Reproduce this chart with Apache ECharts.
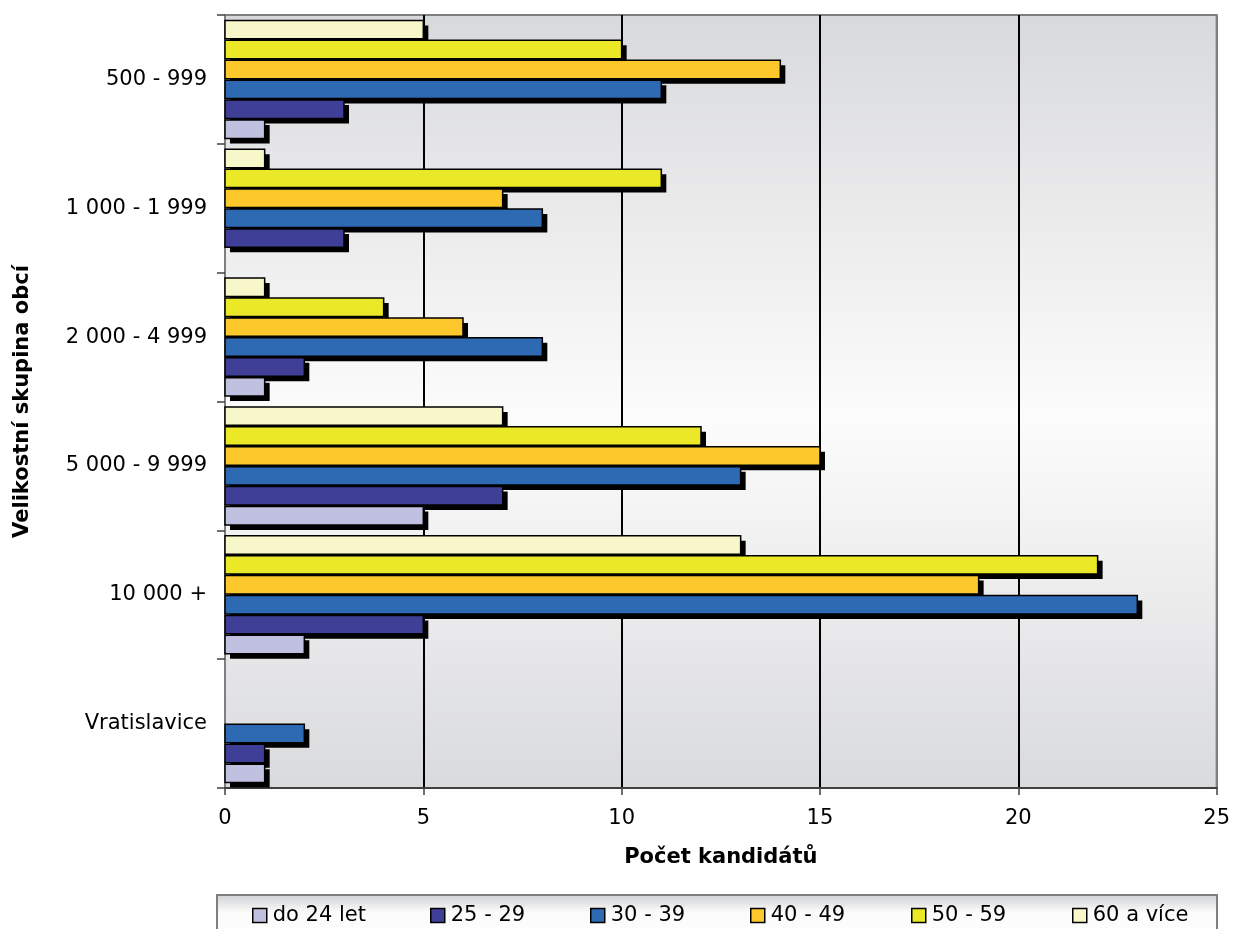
<!DOCTYPE html>
<html>
<head>
<meta charset="utf-8">
<script src="https://cdn.jsdelivr.net/npm/echarts@6/dist/echarts.min.js"></script>
<style>html,body{margin:0;padding:0;background:#fff;}#c{width:1233px;height:929px;}</style>
</head>
<body>
<div id="c"></div>
<script>
// categories listed bottom to top
const categories = ['Vratislavice', '10 000 +', '5 000 - 9 999', '2 000 - 4 999', '1 000 - 1 999', '500 - 999'];
const seriesNames = ['do 24 let', '25 - 29', '30 - 39', '40 - 49', '50 - 59', '60 a více'];
const do24 = [1, 2, 5, 1, 0, 1];
const s25_29 = [1, 5, 7, 2, 3, 3];
const s30_39 = [2, 23, 13, 8, 8, 11];
const s40_49 = [0, 19, 15, 6, 7, 14];
const s50_59 = [0, 22, 12, 4, 11, 10];
const s60plus = [0, 13, 7, 1, 1, 5];
const xTicks = [0, 5, 10, 15, 20, 25];

const allValues = [do24, s25_29, s30_39, s40_49, s50_59, s60plus];
const colors = ['#c0c0e0', '#3f3f98', '#2e69b3', '#fdc82b', '#ebe827', '#f8f7c9'];
const legendLeft = [252, 430, 590, 750, 911, 1072];

const chart = echarts.init(document.getElementById('c'), null, {renderer: 'canvas'});
const FONT = 'DejaVu Sans';
const N = allValues.length;
const CAT_GAP = 0.084;
const BAR_GAP = 0.08;
const SH = 5;

function makeRender(k) {
  return function (params, api) {
    const val = api.value(0);
    const cat = api.value(1);
    if (!val) return null;
    const bandH = api.size([0, 1])[1];
    const total = bandH * (1 - CAT_GAP);
    const w = total / (N + (N - 1) * BAR_GAP);
    const g = w * BAR_GAP;
    const p0 = api.coord([0, cat]);
    const p1 = api.coord([val, cat]);
    const top = p0[1] + total / 2 - (k + 1) * w - k * g;
    const len = p1[0] - p0[0];
    return {
      type: 'group',
      children: [
        {type: 'rect', shape: {x: p0[0] + SH, y: top + SH, width: len, height: w}, style: {fill: '#000'}},
        {type: 'rect', shape: {x: p0[0], y: top, width: len, height: w}, style: {fill: colors[k], stroke: '#000', lineWidth: 1.5}}
      ]
    };
  };
}

const series = allValues.map((vals, k) => ({
  name: seriesNames[k],
  type: 'custom',
  z: 10 - k,
  renderItem: makeRender(k),
  encode: {x: 0, y: 1},
  itemStyle: {color: colors[k]},
  data: vals.map((v, ci) => [v, ci])
}));

const legends = seriesNames.map((n, i) => ({
  data: [n],
  left: legendLeft[i],
  top: 905,
  padding: 0,
  itemWidth: 14,
  itemHeight: 14,
  itemGap: 0,
  icon: 'rect',
  itemStyle: {color: colors[i], borderColor: '#000', borderWidth: 1.5},
  textStyle: {fontFamily: FONT, fontSize: 21, color: '#000', padding: [0, 0, 0, 1]},
  selectedMode: false
}));

chart.setOption({
  animation: false,
  backgroundColor: '#fff',
  graphic: [{
    type: 'rect',
    shape: {x: 217, y: 895, width: 1000, height: 50},
    style: {
      fill: new echarts.graphic.LinearGradient(0, 0, 0, 1, [
        {offset: 0, color: '#cfd0d2'},
        {offset: 0.35, color: '#fbfbfb'},
        {offset: 1, color: '#ffffff'}
      ]),
      stroke: '#7f7f7f',
      lineWidth: 2
    },
    z: -1
  }],
  legend: legends,
  grid: {
    left: 225, right: 16, top: 15, bottom: 141,
    show: true,
    backgroundColor: new echarts.graphic.LinearGradient(0, 0, 0, 1, [
      {offset: 0, color: '#d8d9db'},
      {offset: 0.52, color: '#fcfcfc'},
      {offset: 1, color: '#d9dadc'}
    ]),
    borderColor: '#7f7f7f',
    borderWidth: 2
  },
  xAxis: {
    type: 'value',
    min: xTicks[0], max: xTicks[xTicks.length - 1], interval: 5,
    name: 'Počet kandidátů',
    nameLocation: 'middle',
    nameGap: 59,
    nameMoveOverlap: false,
    nameTextStyle: {fontFamily: FONT, fontSize: 21, fontWeight: 'bold', color: '#000'},
    axisLine: {show: true, lineStyle: {color: '#404040', width: 2}},
    axisTick: {show: true, length: 7, lineStyle: {color: '#404040', width: 1.5}},
    axisLabel: {fontFamily: FONT, fontSize: 21, color: '#000', margin: 20},
    splitLine: {show: true, lineStyle: {color: ['#7f7f7f', '#000', '#000', '#000', '#000', '#7f7f7f'], width: 2}}
  },
  yAxis: {
    type: 'category',
    data: categories,
    name: 'Velikostní skupina obcí',
    nameLocation: 'middle',
    nameGap: 192,
    nameMoveOverlap: false,
    nameTextStyle: {fontFamily: FONT, fontSize: 21, fontWeight: 'bold', color: '#000'},
    axisLine: {show: true, lineStyle: {color: '#7f7f7f', width: 1.5}},
    axisTick: {show: true, length: 8, lineStyle: {color: '#404040', width: 1.5}},
    axisLabel: {fontFamily: FONT, fontSize: 21, color: '#000', margin: 18},
    splitLine: {show: false}
  },
  series: series
});
</script>
</body>
</html>
